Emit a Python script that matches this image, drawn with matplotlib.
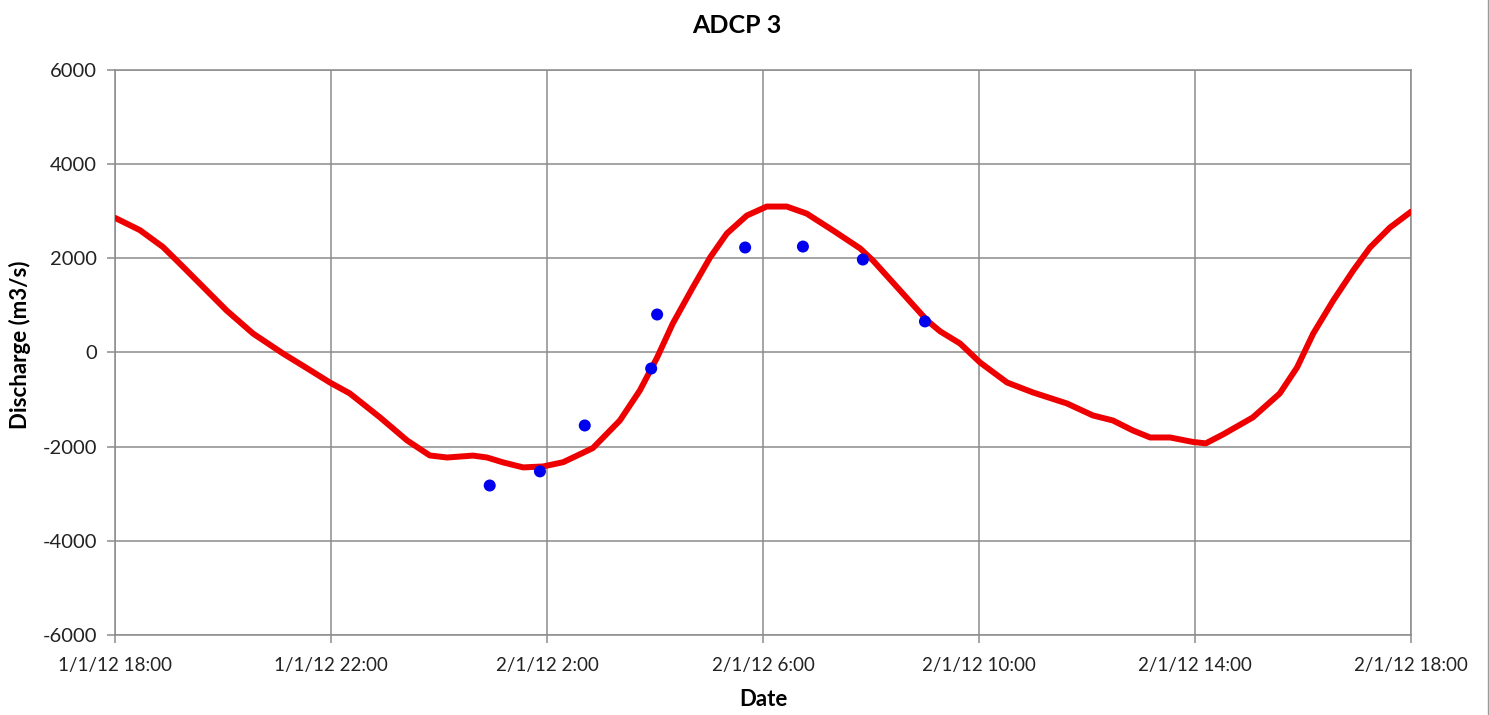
import numpy as np
import pandas as pd
import matplotlib
matplotlib.use('Agg')
import matplotlib.pyplot as plt
from matplotlib.lines import Line2D

plt.rcParams['font.family'] = ['Lato', 'DejaVu Sans']
plt.rcParams['axes.unicode_minus'] = False

start = pd.Timestamp('2012-01-01 18:00')

# modelled discharge (hours after start, m3/s)
model_hours = [0.0, 0.46, 0.89, 1.2, 1.57, 2.07, 2.56, 3.11, 3.55, 3.98, 4.35, 4.91,
               5.41, 5.83, 6.15, 6.63, 6.89, 7.19, 7.56, 7.93, 8.30, 8.85, 9.35, 9.72,
               10.04, 10.33, 10.70, 11.02, 11.33, 11.70, 12.07, 12.44, 12.81, 13.30,
               13.80, 14.04, 14.54, 15.04, 15.28, 15.65, 16.02, 16.52, 17.0, 17.63,
               18.11, 18.48, 18.85, 19.17, 19.54, 19.96, 20.2, 20.52, 21.07, 21.57,
               21.89, 22.19, 22.56, 22.93, 23.24, 23.61, 24.0]
model_q = [2860, 2600, 2240, 1890, 1465, 890, 400, -20, -330, -637, -870, -1380,
           -1868, -2187, -2230, -2190, -2230, -2335, -2441, -2420, -2330, -2030, -1444, -807,
           -106, 616, 1380, 2017, 2526, 2908, 3100, 3100, 2950, 2590,
           2210, 1950, 1316, 680, 450, 191, -212, -637, -849, -1083,
           -1337, -1444, -1656, -1805, -1805, -1900, -1930, -1740, -1380, -870,
           -318, 403, 1104, 1741, 2229, 2654, 2990]

# ADCP measurements
adcp_hours = [6.94, 7.87, 8.70, 9.93, 10.04, 11.67, 12.74, 13.85, 15.0]
adcp_q = [-2825, -2525, -1550, -340, 807, 2230, 2250, 1975, 660]

tick_hours = [0, 4, 8, 12, 16, 20, 24]
tick_labels = ['1/1/12 18:00', '1/1/12 22:00', '2/1/12 2:00', '2/1/12 6:00',
               '2/1/12 10:00', '2/1/12 14:00', '2/1/12 18:00']

model_t = [start + pd.Timedelta(hours=h) for h in model_hours]
adcp_t = [start + pd.Timedelta(hours=h) for h in adcp_hours]
tick_t = [start + pd.Timedelta(hours=h) for h in tick_hours]

fig = plt.figure(figsize=(14.89, 7.15), dpi=100)
ax = fig.add_axes([0.0772, 0.1119, 0.8704, 0.7902])

ax.plot(model_t, model_q, color='#ee0000', lw=4.3, solid_capstyle='round',
        solid_joinstyle='round', zorder=3)
ax.scatter(adcp_t, adcp_q, s=75, color='#0000ee', zorder=4, edgecolors='none')

ax.set_xlim(tick_t[0], tick_t[-1])
ax.set_ylim(-6000, 6000)
ax.set_yticks(np.arange(-6000, 6001, 2000))
ax.set_xticks(tick_t)
ax.set_xticklabels(tick_labels)

ax.grid(True, color='#8c8c8c', lw=1.1)
for s in ax.spines.values():
    s.set_color('#8c8c8c')
    s.set_linewidth(1.1)
ax.tick_params(axis='both', colors='#8c8c8c', length=6, width=1.1,
               labelcolor='#222222')
ax.tick_params(axis='x', pad=10, labelsize=13.5)
ax.tick_params(axis='y', pad=7, labelsize=14.5)

fig.text(0.495, 0.965, 'ADCP 3', fontsize=18, fontweight='bold', ha='center', va='center')
fig.text(0.5124, 0.021, 'Date', fontsize=16, fontweight='bold', ha='center', va='center')
fig.text(0.0134, 0.5175, 'Discharge (m3/s)', fontsize=16, fontweight='bold',
         ha='center', va='center', rotation=90)

fig.add_artist(Line2D([0.9993, 0.9993], [0, 1], color='#9a9a9a', lw=1))

fig.savefig('out.png', dpi=100)
